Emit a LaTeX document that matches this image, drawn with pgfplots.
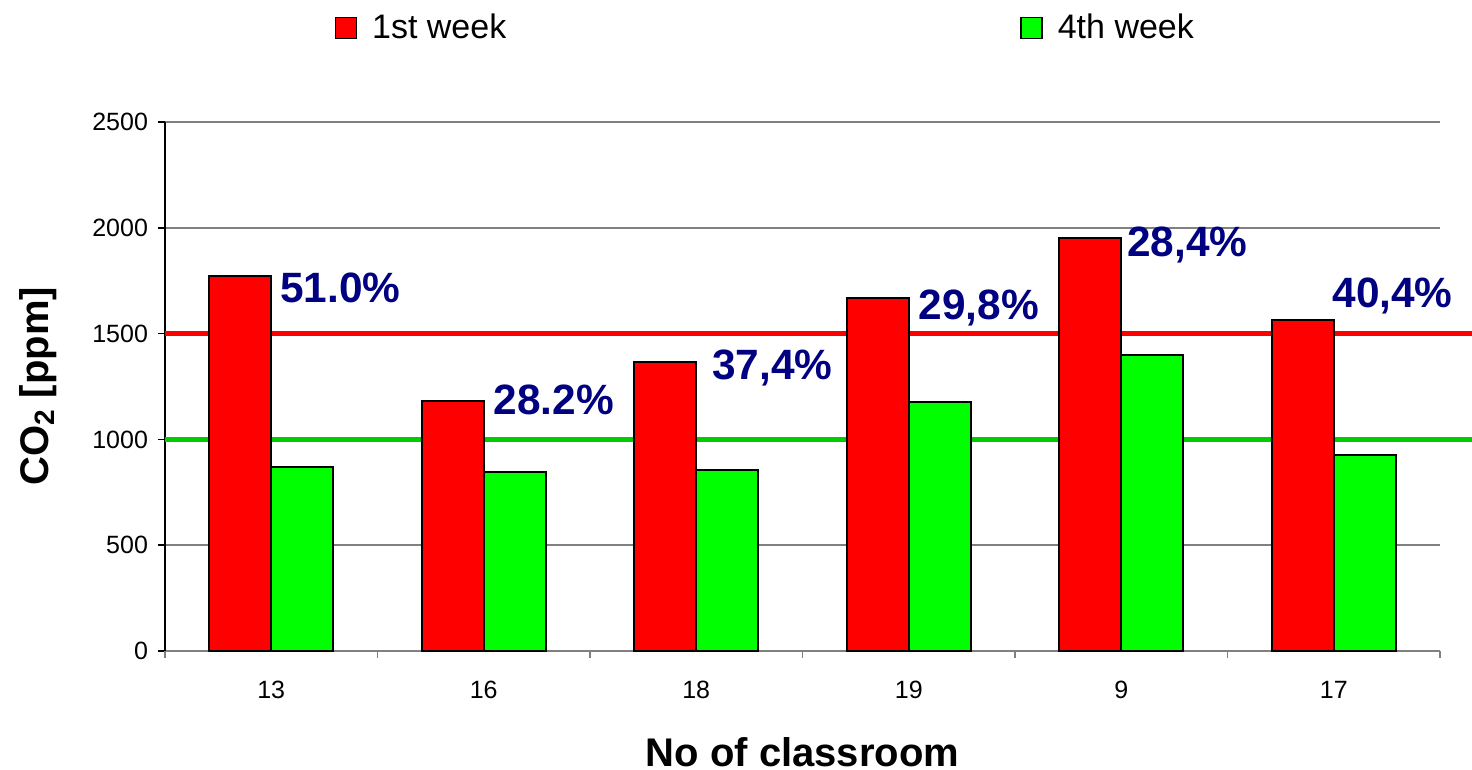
\documentclass[border=0pt]{standalone}
\usepackage{fontspec}
\setmainfont{Liberation Sans}
\usepackage{pgfplots}
\pgfplotsset{compat=1.18}
\definecolor{barred}{RGB}{255,0,0}
\definecolor{bargreen}{RGB}{0,255,0}
\definecolor{linegreen}{RGB}{0,204,0}
\definecolor{labnavy}{RGB}{0,0,128}
\definecolor{gridgray}{RGB}{128,128,128}
\begin{document}
\begin{tikzpicture}
\begin{axis}[
  scale only axis, width=637.5pt, height=264.5pt,
  ybar, bar width=31pt, clip=false,
  xmin=-0.5, xmax=5.5, ymin=0, ymax=2500,
  ytick={0,500,...,2500},
  xtick={0,...,5}, xticklabels={13,16,18,19,9,17},
  major x tick style={draw=none},
  extra x ticks={-0.5,0.5,1.5,2.5,3.5,4.5,5.5}, extra x tick labels={},
  extra x tick style={grid=none, major tick length=3.5pt, tick align=outside, major x tick style={draw=gridgray, line width=0.75pt}},
  axis x line*=bottom, axis y line*=left,
  x axis line style={draw=gridgray, line width=0.75pt, -},
  y axis line style={draw=black, line width=0.75pt, -},
  ytick style={draw=black, line width=0.75pt},
  tick align=outside, major tick length=3.5pt,
  ymajorgrids, grid style={draw=gridgray, line width=0.75pt},
  tick label style={font=\fontsize{12.5}{15}\selectfont},
  xticklabel style={yshift=-8pt},
  yticklabel style={xshift=-1.5pt},
  /pgf/number format/assume math mode=true,
  /pgf/number format/1000 sep={},
  xlabel={No of classroom},
  xlabel style={font=\bfseries\fontsize{20}{24}\selectfont, at={(axis description cs:0.5,-0.192)}, anchor=center},
  ylabel={CO\textsubscript{2} [ppm]},
  ylabel style={font=\bfseries\fontsize{20}{24}\selectfont, at={(axis description cs:-0.0996,0.5)}, anchor=center},
  legend columns=2,
  legend style={at={(axis description cs:0.4716,1.178)}, anchor=center, draw=none, fill=none,
    font=\fontsize{17}{20}\selectfont,
    /tikz/every odd column/.append style={column sep=5.5pt},
    /tikz/every even column/.append style={column sep=255pt}},
  legend image code/.code={\draw[#1, draw=black, line width=0.75pt] (0pt,-5.25pt) rectangle (10.5pt,5.25pt);},
]
\addplot[sharp plot, draw=barred, line width=2.5pt, forget plot] coordinates {(-0.5,1500) (5.65,1500)};
\addplot[sharp plot, draw=linegreen, line width=2.5pt, forget plot] coordinates {(-0.5,1000) (5.65,1000)};
\addplot[fill=barred, draw=black, line width=1pt, bar shift=-15.5pt]
  coordinates {(0,1772) (1,1181) (2,1366) (3,1668) (4,1952) (5,1564)};
\addlegendentry{1st week}
\addplot[fill=bargreen, draw=black, line width=1pt, bar shift=15.5pt]
  coordinates {(0,870) (1,846) (2,855) (3,1177) (4,1399) (5,926)};
\addlegendentry{4th week}
\node[anchor=west, inner sep=0pt, font=\bfseries\fontsize{21.2}{25}\selectfont, text=labnavy] at (axis cs:0.041,1715) {51.0\%};
\node[anchor=west, inner sep=0pt, font=\bfseries\fontsize{21.2}{25}\selectfont, text=labnavy] at (axis cs:1.044,1186) {28.2\%};
\node[anchor=west, inner sep=0pt, font=\bfseries\fontsize{21.2}{25}\selectfont, text=labnavy] at (axis cs:2.074,1337) {37,4\%};
\node[anchor=west, inner sep=0pt, font=\bfseries\fontsize{21.2}{25}\selectfont, text=labnavy] at (axis cs:3.044,1621) {29,8\%};
\node[anchor=west, inner sep=0pt, font=\bfseries\fontsize{21.2}{25}\selectfont, text=labnavy] at (axis cs:4.027,1919) {28,4\%};
\node[anchor=west, inner sep=0pt, font=\bfseries\fontsize{21.2}{25}\selectfont, text=labnavy] at (axis cs:4.992,1678) {40,4\%};
\coordinate (bbbl) at (axis description cs:-0.12941,-0.22495);
\coordinate (bbtr) at (axis description cs:1.02510,1.23062);
\end{axis}
\pgfresetboundingbox
\path[use as bounding box] (bbbl) rectangle (bbtr);
\end{tikzpicture}
\end{document}
